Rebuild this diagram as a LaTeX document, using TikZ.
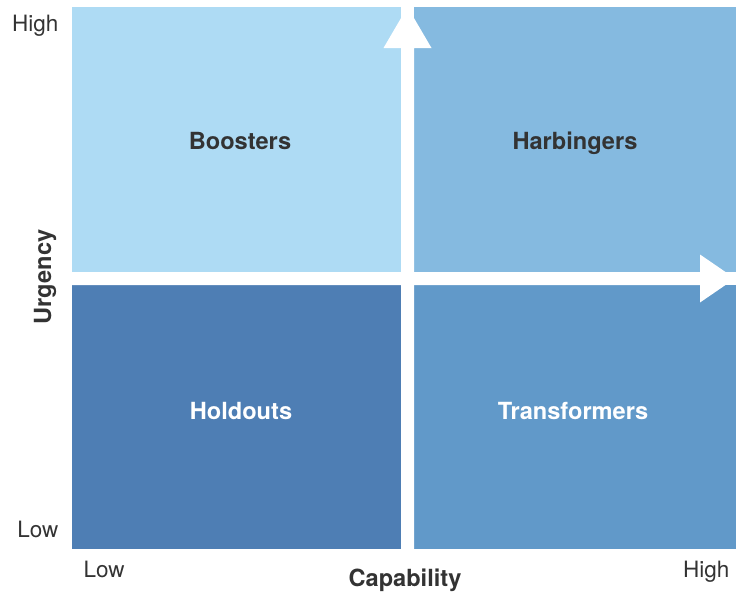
\documentclass[tikz,border=0pt]{standalone}
\usepackage{fontspec}
\setmainfont{TeX Gyre Heros}
\usepackage{tikz}

\definecolor{boostblue}{RGB}{174,219,244}
\definecolor{harbblue}{RGB}{133,186,224}
\definecolor{holdblue}{RGB}{78,126,180}
\definecolor{transblue}{RGB}{97,153,201}
\definecolor{labelgray}{RGB}{51,51,51}

\tikzset{
	quadlabel/.style={font=\fontsize{23.6}{28}\selectfont\bfseries, anchor=base},
	axislabel/.style={font=\fontsize{23.6}{28}\selectfont\bfseries, text=labelgray, anchor=base},
	ticklabel/.style={font=\fontsize{22.5}{27}\selectfont, text=labelgray}
}

\begin{document}
\begin{tikzpicture}[x=1pt, y=-1pt]
			%%%%% START %%%%%
			\useasboundingbox (0, 0) rectangle (736, 592);
			
			\fill[boostblue] (72, 7) rectangle (401, 272);
			\fill[harbblue] (414, 7) rectangle (736, 272);
			\fill[holdblue] (72, 285) rectangle (401, 549);
			\fill[transblue] (414, 285) rectangle (736, 549);
			
			% white axes with arrow heads
			\fill[white] (401, 549) -- (401, 48) -- (383.5, 48) -- (407.5, 7) -- (431.5, 48) -- (414, 48) -- (414, 549) -- cycle;
			\fill[white] (72, 272) -- (700, 272) -- (700, 254.5) -- (735, 278.5) -- (700, 302.5) -- (700, 285) -- (72, 285) -- cycle;
			
			\node[quadlabel, text=labelgray] (boosters) at (240, 149) {Boosters};
			\node[quadlabel, text=labelgray] (harbingers) at (575, 149) {Harbingers};
			\node[quadlabel, text=white] (holdouts) at (241, 419) {Holdouts};
			\node[quadlabel, text=white] (transformers) at (573, 419) {Transformers};
			
			\node[ticklabel, anchor=base east] (yhigh) at (62, 31) {High};
			\node[ticklabel, anchor=base east] (ylow) at (62, 537) {Low};
			\node[ticklabel, anchor=base west] (xlow) at (80, 577) {Low};
			\node[ticklabel, anchor=base east] (xhigh) at (733, 577) {High};
			
			\node[axislabel] (capability) at (405, 586) {Capability};
			\node[axislabel, rotate=90] (urgency) at (51, 277) {Urgency};
			%%%%% END %%%%%
\end{tikzpicture}
\end{document}
